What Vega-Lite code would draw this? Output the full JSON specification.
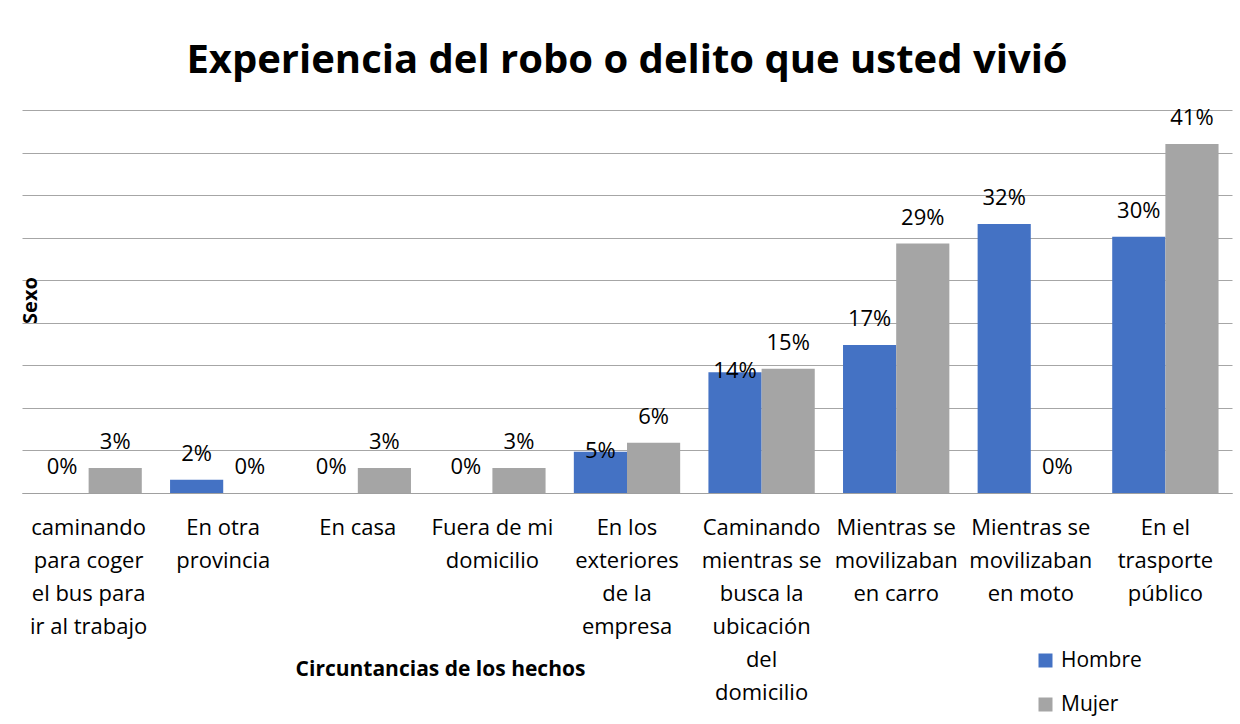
{
  "$schema": "https://vega.github.io/schema/vega-lite/v6.json",
  "autosize": "none",
  "padding": {"left": 22, "top": 110, "right": 8, "bottom": 231},
  "width": 1210,
  "height": 383,
  "background": "white",
  "config": {
    "font": "Open Sans",
    "view": {"stroke": null}
  },
  "title": {
    "text": "Experiencia del robo o delito que usted vivió",
    "fontSize": 40,
    "fontWeight": "bold",
    "font": "Open Sans",
    "color": "#000000",
    "anchor": "middle",
    "frame": "group",
    "baseline": "alphabetic",
    "offset": -6
  },
  "data": {
    "values": [
      {"circ": "caminando|para coger|el bus para|ir al trabajo", "sexo": "Hombre", "value": 0},
      {"circ": "caminando|para coger|el bus para|ir al trabajo", "sexo": "Mujer", "value": 0.0293},
      {"circ": "En otra|provincia", "sexo": "Hombre", "value": 0.0157},
      {"circ": "En otra|provincia", "sexo": "Mujer", "value": 0},
      {"circ": "En casa", "sexo": "Hombre", "value": 0},
      {"circ": "En casa", "sexo": "Mujer", "value": 0.0293},
      {"circ": "Fuera de mi|domicilio", "sexo": "Hombre", "value": 0},
      {"circ": "Fuera de mi|domicilio", "sexo": "Mujer", "value": 0.0293},
      {"circ": "En los|exteriores|de la|empresa", "sexo": "Hombre", "value": 0.0485},
      {"circ": "En los|exteriores|de la|empresa", "sexo": "Mujer", "value": 0.059},
      {"circ": "Caminando|mientras se|busca la|ubicación|del|domicilio", "sexo": "Hombre", "value": 0.142},
      {"circ": "Caminando|mientras se|busca la|ubicación|del|domicilio", "sexo": "Mujer", "value": 0.146},
      {"circ": "Mientras se|movilizaban|en  carro", "sexo": "Hombre", "value": 0.174},
      {"circ": "Mientras se|movilizaban|en  carro", "sexo": "Mujer", "value": 0.293},
      {"circ": "Mientras se|movilizaban|en moto", "sexo": "Hombre", "value": 0.316},
      {"circ": "Mientras se|movilizaban|en moto", "sexo": "Mujer", "value": 0},
      {"circ": "En el|trasporte|público", "sexo": "Hombre", "value": 0.301},
      {"circ": "En el|trasporte|público", "sexo": "Mujer", "value": 0.41}
    ]
  },
  "encoding": {
    "x": {
      "field": "circ",
      "type": "nominal",
      "sort": null,
      "scale": {"paddingInner": 0.21, "paddingOuter": 0.1},
      "axis": {
        "title": "Circuntancias de los hechos",
        "titleFont": "Open Sans",
        "titleFontSize": 21,
        "titleFontWeight": "bold",
        "titleColor": "#000000",
        "titleX": 418,
        "titleY": 176,
        "titleBaseline": "middle",
        "titleAnchor": "middle",
        "labelExpr": "split(datum.label, '|')",
        "labelAngle": 0,
        "labelAlign": "center",
        "labelBaseline": "top",
        "labelFont": "Open Sans",
        "labelFontSize": 22,
        "labelLineHeight": 33,
        "labelColor": "#000000",
        "labelPadding": 24,
        "labelLimit": 0,
        "ticks": false,
        "domainColor": "#a0a0a0",
        "domainWidth": 1.2
      }
    },
    "xOffset": {"field": "sexo", "type": "nominal", "sort": ["Hombre", "Mujer"], "scale": {"paddingInner": 0, "paddingOuter": 0}},
    "y": {
      "field": "value",
      "type": "quantitative",
      "scale": {"domain": [0, 0.45], "nice": false},
      "axis": {
        "title": "Sexo",
        "titleFont": "Open Sans",
        "titleFontSize": 20,
        "titleFontWeight": "bold",
        "titleColor": "#000000",
        "titleAngle": -90,
        "titleX": 8,
        "titleY": 190,
        "titleBaseline": "middle",
        "titleAlign": "center",
        "values": [0, 0.05, 0.1, 0.15, 0.2, 0.25, 0.3, 0.35, 0.4, 0.45],
        "labels": false,
        "ticks": false,
        "domain": false,
        "grid": true,
        "gridColor": "#a6a6a6",
        "gridWidth": 1
      }
    }
  },
  "layer": [
    {
      "mark": {"type": "bar"},
      "encoding": {
        "color": {
          "field": "sexo",
          "type": "nominal",
          "scale": {"domain": ["Hombre", "Mujer"], "range": ["#4472c4", "#a5a5a5"]},
          "legend": {
            "title": null,
            "orient": "none",
            "legendX": 1013,
            "legendY": 540,
            "direction": "vertical",
            "symbolType": "square",
            "symbolSize": 196,
            "symbolStrokeWidth": 0,
            "labelFont": "Open Sans",
            "labelFontSize": 21,
            "labelColor": "#000000",
            "labelOffset": 5,
            "rowPadding": 22
          }
        }
      }
    },
    {
      "transform": [{"filter": "!(datum.sexo == 'Hombre' && (datum.circ == 'En los|exteriores|de la|empresa' || datum.circ == 'Caminando|mientras se|busca la|ubicación|del|domicilio'))"}],
      "mark": {"type": "text", "dy": -26, "baseline": "middle", "fontSize": 22, "font": "Open Sans", "color": "#000000"},
      "encoding": {"text": {"field": "value", "type": "quantitative", "format": ".0%"}}
    },
    {
      "transform": [{"filter": "datum.sexo == 'Hombre' && (datum.circ == 'En los|exteriores|de la|empresa' || datum.circ == 'Caminando|mientras se|busca la|ubicación|del|domicilio')"}],
      "mark": {"type": "text", "dy": -1, "baseline": "middle", "fontSize": 22, "font": "Open Sans", "color": "#000000"},
      "encoding": {"text": {"field": "value", "type": "quantitative", "format": ".0%"}}
    }
  ]
}
